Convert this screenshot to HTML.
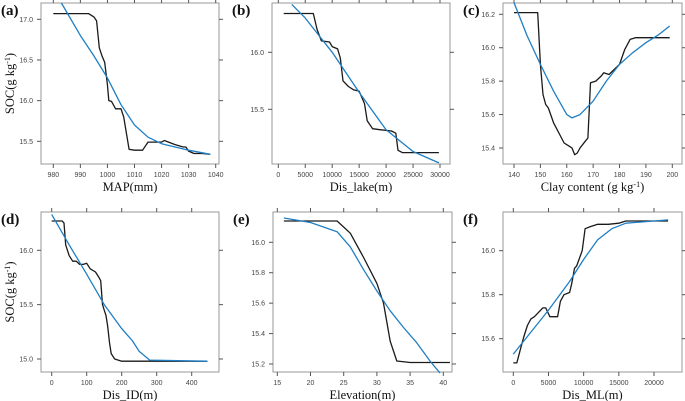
<!DOCTYPE html>
<html><head><meta charset="utf-8"><style>
body{margin:0;background:#fff;width:685px;height:401px;overflow:hidden}
svg{display:block}
.tk{font-family:"Liberation Sans",sans-serif;font-size:7px;fill:#444}
.tt{font-family:"Liberation Serif",serif;font-size:12.5px;fill:#111}
.lt{font-family:"Liberation Serif",serif;font-size:15px;font-weight:bold;fill:#111}
</style></head><body>
<svg id="c" width="685" height="401"></svg>
<script>
const aBlackX=[980,993,995,996,997,998,999,1000,1000.5,1001.5,1003,1005,1006,1007,1008,1010,1013,1015,1020,1021,1025,1028,1029,1030,1032,1035,1038];
const aBlackY=[17.07,17.07,17.03,16.98,16.65,16.55,16.47,16.2,16.0,15.99,15.9,15.9,15.8,15.6,15.4,15.39,15.39,15.49,15.49,15.51,15.46,15.43,15.43,15.38,15.35,15.35,15.34];
const aBlueX=[983,990,995,1000,1005,1010,1015,1020,1025,1030,1038];
const aBlueY=[17.2,16.8,16.55,16.28,15.95,15.7,15.55,15.47,15.43,15.39,15.34];
const bBlackX=[1000,6500,7200,8000,9500,10000,11000,11500,12000,13000,14000,15000,16000,16500,17500,19000,21000,21800,22200,23000,29800];
const bBlackY=[16.34,16.34,16.2,16.1,16.09,16.05,16.03,15.95,15.75,15.7,15.67,15.66,15.55,15.4,15.33,15.32,15.31,15.29,15.14,15.12,15.12];
const bBlueX=[2500,5000,10000,15000,20000,25000,29800];
const bBlueY=[16.42,16.3,16.0,15.65,15.32,15.13,15.03];
const cBlackX=[140,149,150,151,152,153,155,157,159,161,162,163,164,165,167,168,169,171,173,174,176,180,182,184,186,199];
const cBlackY=[16.21,16.21,15.9,15.72,15.66,15.64,15.55,15.49,15.43,15.41,15.4,15.36,15.37,15.4,15.44,15.46,15.79,15.8,15.83,15.85,15.84,15.9,15.99,16.05,16.06,16.06];
const cBlueX=[140,145,150,155,160,162,165,170,175,180,185,190,195,199];
const cBlueY=[16.27,16.07,15.9,15.74,15.6,15.58,15.6,15.68,15.8,15.9,15.97,16.03,16.08,16.13];
const dBlackX=[0,30,35,40,50,60,70,80,90,100,110,125,135,140,145,150,155,160,165,170,180,200,445];
const dBlackY=[16.27,16.27,16.25,16.05,15.95,15.9,15.9,15.87,15.87,15.88,15.83,15.8,15.75,15.72,15.5,15.45,15.4,15.3,15.15,15.05,15.0,14.98,14.98];
const dBlueX=[0,50,100,150,200,230,250,280,445];
const dBlueY=[16.33,16.05,15.78,15.5,15.28,15.17,15.07,14.99,14.98];
const eBlackX=[16,24,26,28,30,31,32,33,35,41];
const eBlackY=[16.14,16.14,16.06,15.9,15.73,15.6,15.35,15.22,15.21,15.21];
const eBlueX=[16,20,24,26,28,30,32,34,36,38,39.5];
const eBlueY=[16.16,16.13,16.07,15.97,15.82,15.68,15.55,15.44,15.34,15.22,15.14];
const fBlackX=[0,500,1000,1500,2000,2500,3000,4200,4600,5200,6300,6700,7200,8000,8300,8700,9000,9800,10200,11000,12000,13500,15000,16000,22000];
const fBlackY=[15.49,15.49,15.55,15.61,15.66,15.69,15.7,15.74,15.74,15.7,15.7,15.77,15.8,15.81,15.85,15.92,15.93,16.0,16.1,16.11,16.12,16.12,16.125,16.135,16.135];
const fBlueX=[0,2000,5000,8000,10000,12000,14000,16000,22000];
const fBlueY=[15.53,15.61,15.73,15.86,15.96,16.05,16.1,16.125,16.14];
const aXTicks=[980,990,1000,1010,1020,1030,1040], aYTicks=[17.0,16.5,16.0,15.5];
const bXTicks=[0,5000,10000,15000,20000,25000,30000], bYTicks=[16.0,15.5];
const cXTicks=[140,150,160,170,180,190,200], cYTicks=[16.2,16.0,15.8,15.6,15.4];
const dXTicks=[0,100,200,300,400], dYTicks=[16.0,15.5,15.0];
const eXTicks=[15,20,25,30,35,40], eYTicks=[16.0,15.8,15.6,15.4,15.2];
const fXTicks=[0,5000,10000,15000,20000], fYTicks=[16.0,15.8,15.6];

const NS='http://www.w3.org/2000/svg', svg=document.getElementById('c');
function mk(t,a,p){const e=document.createElementNS(NS,t);for(const k in a)e.setAttribute(k,a[k]);(p||svg).appendChild(e);return e;}
// calibration: [v0,px0,v1,px1]
const panels=[
 {id:'a',box:[41,3,219,164],xc:[980,53.3,1040,215.7],yc:[17.0,19.3,15.5,141.3],bx:aBlackX,by:aBlackY,ux:aBlueX,uy:aBlueY,xt:aXTicks,yt:aYTicks,dp:0,xl:'MAP(mm)',yl:true},
 {id:'b',box:[272,3,450,164],xc:[0,278.3,30000,440],yc:[16.0,52.3,15.5,109.3],bx:bBlackX,by:bBlackY,ux:bBlueX,uy:bBlueY,xt:bXTicks,yt:bYTicks,xl:'Dis_lake(m)'},
 {id:'c',box:[503,3,682,164],xc:[140,514,200,672.3],yc:[16.2,14.3,15.4,148],bx:cBlackX,by:cBlackY,ux:cBlueX,uy:cBlueY,xt:cXTicks,yt:cYTicks,xl:'Clay content (g kg',sup:true},
 {id:'d',box:[41,212,219,372],xc:[0,51.7,400,191.7],yc:[16.0,250.3,15.0,359],bx:dBlackX,by:dBlackY,ux:dBlueX,uy:dBlueY,xt:dXTicks,yt:dYTicks,xl:'Dis_ID(m)',yl:true},
 {id:'e',box:[273,212,452,372],xc:[15,277.3,40,443.3],yc:[16.0,242.3,15.2,364],bx:eBlackX,by:eBlackY,ux:eBlueX,uy:eBlueY,xt:eXTicks,yt:eYTicks,xl:'Elevation(m)'},
 {id:'f',box:[503,212,682,372],xc:[0,513.3,20000,654],yc:[16.0,250.7,15.6,338.7],bx:fBlackX,by:fBlackY,ux:fBlueX,uy:fBlueY,xt:fXTicks,yt:fYTicks,xl:'Dis_ML(m)'}
];
panels.forEach(p=>{
 const g=mk('g',{});
 
 
 const X=v=>p.xc[1]+(v-p.xc[0])*(p.xc[3]-p.xc[1])/(p.xc[2]-p.xc[0]);
 const Y=v=>p.yc[1]+(v-p.yc[0])*(p.yc[3]-p.yc[1])/(p.yc[2]-p.yc[0]);
 const [x0,y0,x1,y1]=p.box;
 const r=mk('rect',{x:x0,y:y0,width:x1-x0,height:y1-y0,fill:'none',stroke:'#999','stroke-width':1},g);
 
 
 p.xt.forEach(v=>{const x=X(v);
  mk('line',{x1:x,x2:x,y1:y1,y2:y1+4,stroke:'#555'},g);
  mk('line',{x1:x,x2:x,y1:y0,y2:y0-4,stroke:'#555'},g);
  const t=mk('text',{x:x,y:y1+13,'text-anchor':'middle',class:'tk'},g);t.textContent=v;
  
  });
 p.yt.forEach(v=>{const y=Y(v);
  mk('line',{x1:x0,x2:x0-4,y1:y,y2:y,stroke:'#555'},g);
  mk('line',{x1:x1,x2:x1+4,y1:y,y2:y,stroke:'#555'},g);
  const t=mk('text',{x:x0-8,y:y+2.5,'text-anchor':'end',class:'tk'},g);t.textContent=v.toFixed(1);
  
  });
 const line=(xs,ys,col,nm)=>{const l=mk('polyline',{points:xs.map((v,i)=>X(v).toFixed(1)+','+Y(ys[i]).toFixed(1)).join(' '),fill:'none',stroke:col,'stroke-width':1.3,'stroke-linejoin':'round'},g);
  
  };
 line(p.bx,p.by,'#1a1a1a','observed-line');
 line(p.ux,p.uy,'#1f7fc4','fitted-line');
 const lt=mk('text',{x:x0-40,y:y0+12,class:'lt'},g);lt.textContent='('+p.id+')';
 
 
 const xt=mk('text',{x:(x0+x1)/2,y:y1+27,'text-anchor':'middle',class:'tt'},g);
 xt.textContent=p.xl;
 if(p.sup){const s=mk('tspan',{dy:-4,'font-size':'8px'},xt);s.textContent='-1';const s2=mk('tspan',{dy:4},xt);s2.textContent=')';}
 
 
 if(p.yl){const cy=(y0+y1)/2;const yt=mk('text',{x:0,y:0,'text-anchor':'middle',class:'tt',transform:`translate(14,${cy}) rotate(-90)`},g);
  yt.textContent='SOC(g kg';const s=mk('tspan',{dy:-4,'font-size':'8px'},yt);s.textContent='-1';const s2=mk('tspan',{dy:4},yt);s2.textContent=')';
  
  }
});
</script>
</body></html>
